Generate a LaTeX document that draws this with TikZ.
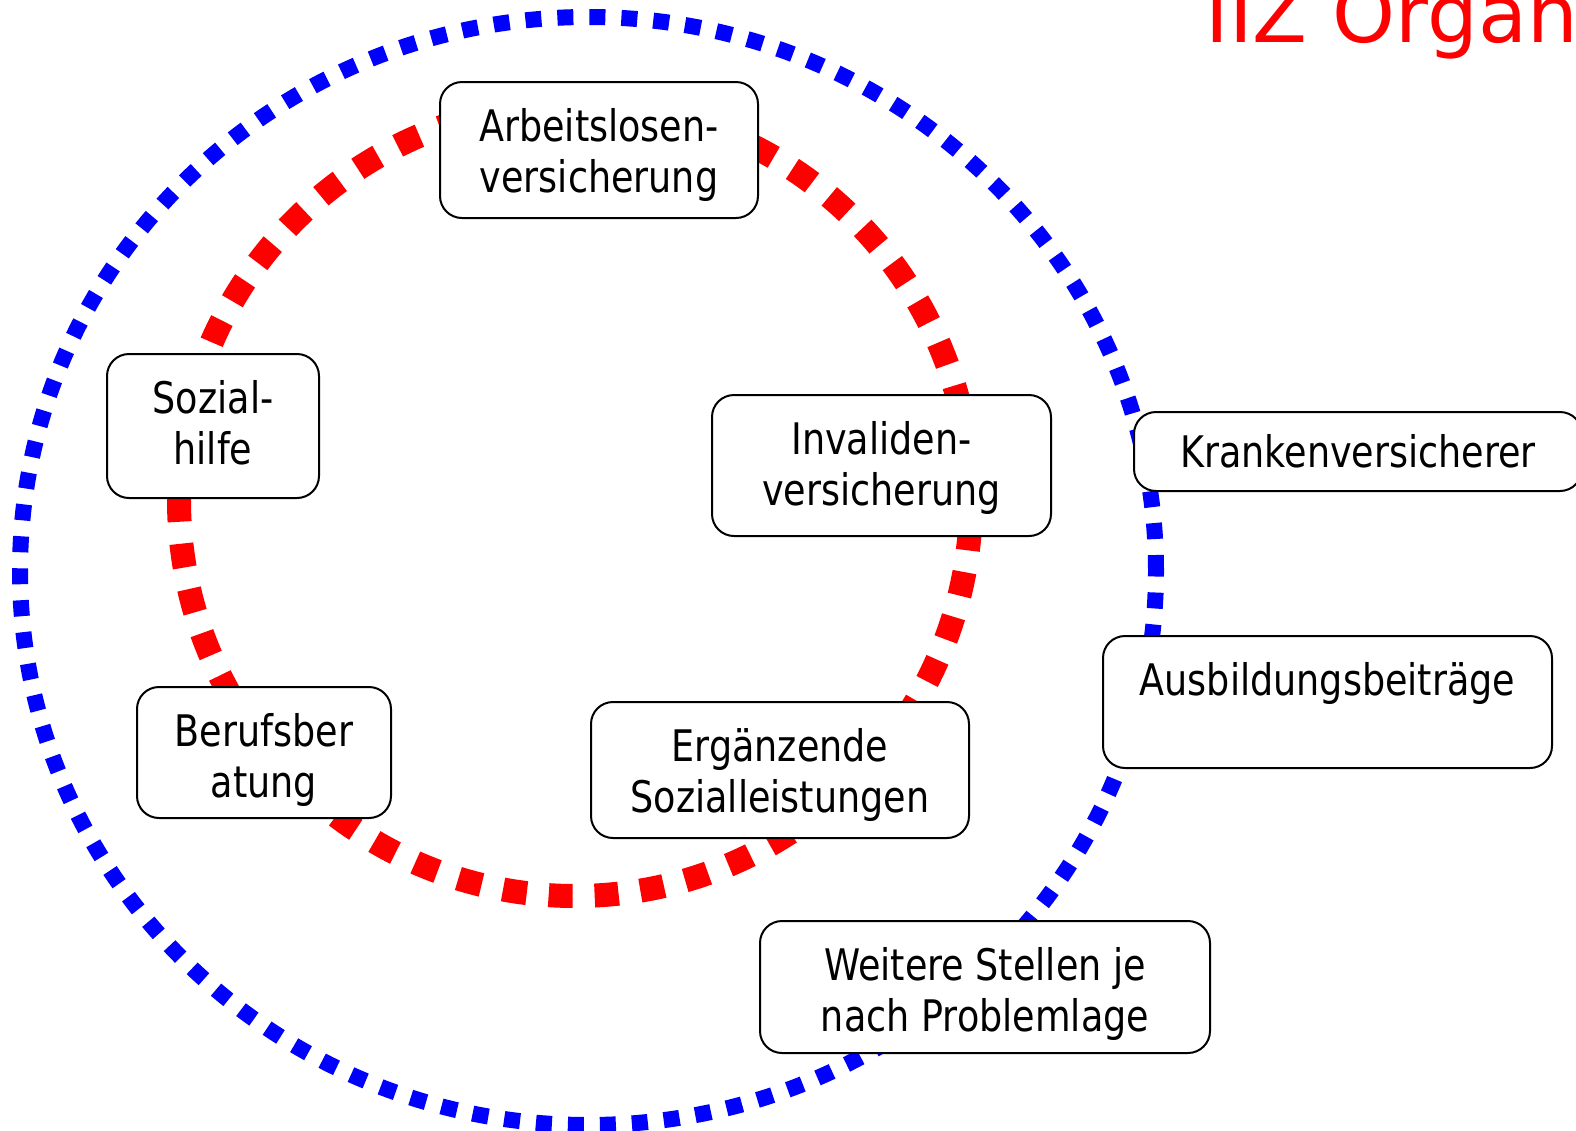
\documentclass[tikz,border=0pt]{standalone}
\usepackage{fontspec}
\setmainfont{DejaVu Sans}[FakeStretch=0.84]
\newfontfamily\titlefont{DejaVu Sans}
\usetikzlibrary{calc,positioning}

\begin{document}
\begin{tikzpicture}[x=0.5pt,y=-0.5pt,
    box/.style={draw,rounded corners=11pt,line width=1pt,fill=white,align=center,
      inner sep=0pt,font=\fontsize{21.75pt}{25.5pt}\selectfont},
    tall/.style={box,execute at begin node={\rule{0pt}{#1}},execute at end node={\strut}},
    ring/.style={red,line width=12pt,dash pattern=on 12pt off 11pt},
    orbit/.style={blue,line width=8pt,dash pattern=on 8pt off 8pt}]
      \useasboundingbox (0,0) rectangle (1576,1131);

      % circles
      \draw[orbit] (588,571) ellipse [x radius=284pt,y radius=277pt];
      \draw[ring] (575,500) circle [radius=198pt];

      % inner ring
      \node[tall=49.65pt,minimum width=159pt,minimum height=68pt] (arbeit) at (599,150) {Arbeitslosen-\\versicherung};
      \node[tall=45.65pt,minimum width=106pt,minimum height=72pt] (sozial) at (213,426) {Sozial-\\hilfe};
      \node[tall=52.15pt,minimum width=127pt,minimum height=65.5pt] (beruf) at (264,752.5) {Berufsber\\atung};
      \node[tall=47.15pt,minimum width=169.5pt,minimum height=70.5pt] (inval) at (881.5,465.5) {Invaliden-\\versicherung};
      \node[tall=49.65pt,minimum width=189pt,minimum height=68pt] (ergaenz) at (780,770) {Ergänzende\\Sozialleistungen};

      % outer ring
      \node[box,minimum width=224pt,minimum height=39.5pt] (kranken) at (1358,451.5) {Krankenversicherer};
      \node[tall=51.65pt,minimum width=224.5pt,minimum height=66pt] (ausbild) at (1327.5,702) {Ausbildungsbeiträge\\};
      \node[tall=51.65pt,minimum width=225pt,minimum height=66pt] (weitere) at (985,987) {Weitere Stellen je\\nach Problemlage};

      \node[red,anchor=base west,inner sep=0pt,font=\titlefont\fontsize{40pt}{48pt}\selectfont] (titel) at (1205,42) {IIZ Organ};
    \end{tikzpicture}
\end{document}
